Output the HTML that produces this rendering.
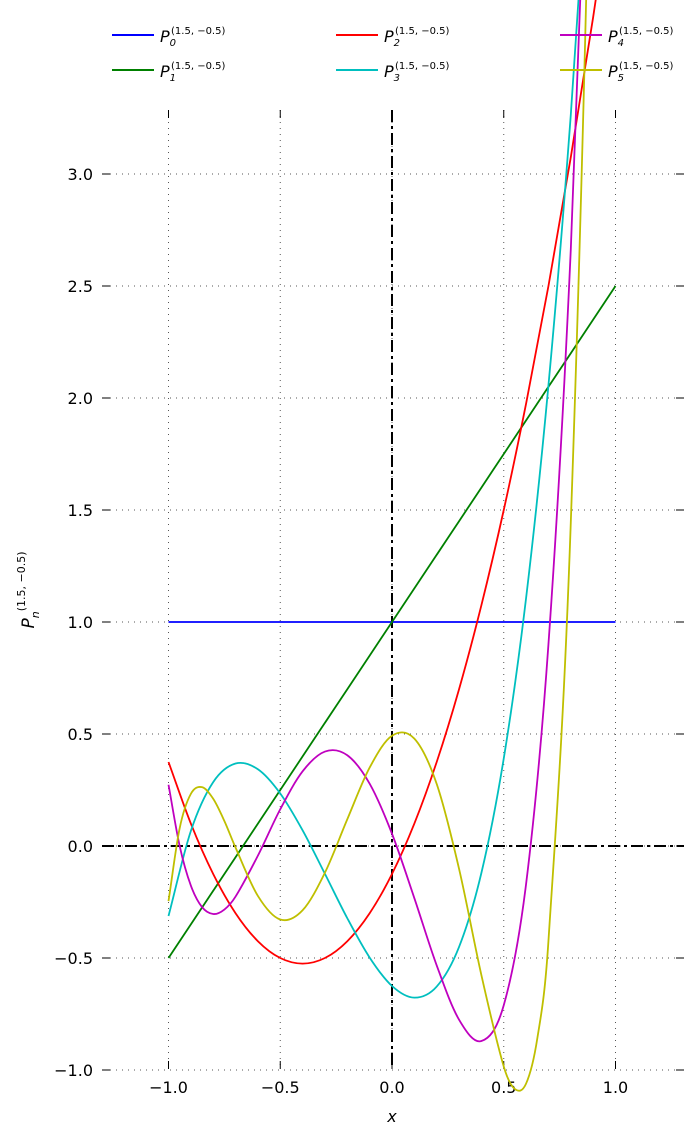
<!DOCTYPE html>
<html><head><meta charset="utf-8"><style>
html,body{margin:0;padding:0;background:#fff;}
svg{display:block;font-family:"DejaVu Sans","Liberation Sans",sans-serif;}
</style></head><body>
<svg id="chart" width="697" height="1141" viewBox="0 0 697 1141">
<g id="grid"></g>
<g id="axes"></g>
<g id="series"></g>
<g id="legend"></g>
<text x="392" y="1122" text-anchor="middle" font-size="16" font-style="italic">x</text>
<text transform="translate(34,590) rotate(-90)" text-anchor="middle" font-size="17" font-style="italic">P<tspan font-size="11" dy="5">n</tspan><tspan font-size="11" dy="-14" font-style="normal">(1.5, −0.5)</tspan></text>
</svg>
<script>
const xSamples=[-1,-0.9,-0.8,-0.7,-0.6,-0.5,-0.4,-0.3,-0.2,-0.1,0,0.1,0.2,0.3,0.4,0.5,0.6,0.7,0.8,0.9,1];
const xSamplesP4=[-1,-0.95,-0.9,-0.85,-0.8,-0.75,-0.7,-0.6,-0.5,-0.4,-0.3,-0.2,-0.1,0,0.1,0.2,0.3,0.4,0.5,0.6,0.7,0.8,0.9,1];
const xSamplesP5=[-1,-0.95,-0.9,-0.85,-0.8,-0.75,-0.7,-0.6,-0.5,-0.4,-0.3,-0.2,-0.1,0,0.1,0.2,0.3,0.4,0.5,0.55,0.6,0.65,0.7,0.8,0.9,1];
const p0Values=[1,1,1,1,1,1,1,1,1,1,1,1,1,1,1,1,1,1,1,1,1];
const p1Values=[-0.5,-0.35,-0.2,-0.05,0.1,0.25,0.4,0.55,0.7,0.85,1,1.15,1.3,1.45,1.6,1.75,1.9,2.05,2.2,2.35,2.5];
const p2Values=[0.375,0.1,-0.125,-0.3,-0.425,-0.5,-0.525,-0.5,-0.425,-0.3,-0.125,0.1,0.375,0.7,1.075,1.5,1.975,2.5,3.075,3.7,4.375];
const p3Values=[-0.3125,0.0669,0.285,0.3681,0.3425,0.2344,0.07,-0.1244,-0.3225,-0.4981,-0.625,-0.6769,-0.6275,-0.4506,-0.12,0.3906,1.1075,2.0569,3.265,4.7581,6.5625];
const p4Values=[0.2734,-0.0002,-0.1768,-0.2728,-0.3037,-0.2836,-0.2258,-0.043,0.1641,0.3333,0.4217,0.405,0.2782,0.0547,-0.2328,-0.533,-0.7753,-0.8707,-0.7109,-0.169,0.9012,2.6643,5.3042,9.0234];
const p5Values=[-0.246,0.0796,0.2327,0.2626,0.2107,0.1115,-0.0073,-0.223,-0.3282,-0.2869,-0.1188,0.1194,0.35,0.4922,0.4794,0.277,-0.1018,-0.5767,-0.9844,-1.085,-1.0606,-0.8601,-0.4233,1.4457,5.2167,11.7305];
const xTicks=[-1.0,-0.5,0.0,0.5,1.0];
const yTicks=[-1.0,-0.5,0.0,0.5,1.0,1.5,2.0,2.5,3.0];
const seriesLabels=["0","1","2","3","4","5"];
const seriesColors=["#0000ff","#008000","#ff0000","#00bfbf","#bf00bf","#bfbf00"];

const NS="http://www.w3.org/2000/svg";
const X=v=>392+v*223.5;
const Y=v=>846-v*224;
const L=102,R=684,T=110,B=1069;
function mk(tag,attrs,parent){const e=document.createElementNS(NS,tag);for(const k in attrs)e.setAttribute(k,attrs[k]);parent.appendChild(e);return e;}
const grid=document.getElementById('grid'),axes=document.getElementById('axes'),ser=document.getElementById('series'),leg=document.getElementById('legend');
const fmt=v=>(v<0?'\u2212':'')+Math.abs(v).toFixed(1);

yTicks.forEach(v=>{
 const g=mk('line',{x1:L+8,x2:R,y1:Y(v),y2:Y(v),stroke:'#555','stroke-width':1,'stroke-dasharray':'1,5'},grid);
 
 
 const t=mk('line',{x1:L,x2:L+8,y1:Y(v),y2:Y(v),stroke:'#000','stroke-width':1},axes);
 
 
 const t2=mk('line',{x1:R-8,x2:R,y1:Y(v),y2:Y(v),stroke:'#000','stroke-width':1},axes);
 
 
 const lb=mk('text',{x:L-9,y:Y(v)+6,'text-anchor':'end','font-size':16},axes);
 lb.textContent=fmt(v);
 
 
});
xTicks.forEach(v=>{
 const g=mk('line',{x1:X(v),x2:X(v),y1:T,y2:B,stroke:'#555','stroke-width':1,'stroke-dasharray':'1,5'},grid);
 
 
 const t=mk('line',{x1:X(v),x2:X(v),y1:T,y2:T+8,stroke:'#000','stroke-width':1},axes);
 
 
 const t2=mk('line',{x1:X(v),x2:X(v),y1:B-8,y2:B,stroke:'#000','stroke-width':1},axes);
 
 
 const lb=mk('text',{x:X(v),y:B+24,'text-anchor':'middle','font-size':16},axes);
 lb.textContent=fmt(v);
 
 
});
const zx=mk('line',{x1:X(0),x2:X(0),y1:T,y2:B,stroke:'#000','stroke-width':2,'stroke-dasharray':'12,4,3,4'},axes);


const zy=mk('line',{x1:L,x2:R,y1:Y(0),y2:Y(0),stroke:'#000','stroke-width':2,'stroke-dasharray':'12,4,3,4'},axes);



const allSeries=[[xSamples,p0Values],[xSamples,p1Values],[xSamples,p2Values],[xSamples,p3Values],[xSamplesP4,p4Values],[xSamplesP5,p5Values]];
function pathFor(xs,vals){
 const pts=xs.map((x,i)=>[X(x),Y(vals[i])]);
 let d='M'+pts[0][0]+','+pts[0][1];
 for(let i=0;i<pts.length-1;i++){
  const p0=pts[Math.max(0,i-1)],p1=pts[i],p2=pts[i+1],p3=pts[Math.min(pts.length-1,i+2)];
  const h=p2[0]-p1[0];
  const s1=(p2[1]-p0[1])/((p2[0]-p0[0])||1), s2=(p3[1]-p1[1])/((p3[0]-p1[0])||1);
  const c1=[p1[0]+h/3,p1[1]+s1*h/3];
  const c2=[p2[0]-h/3,p2[1]-s2*h/3];
  d+=` C${c1[0].toFixed(2)},${c1[1].toFixed(2)} ${c2[0].toFixed(2)},${c2[1].toFixed(2)} ${p2[0].toFixed(2)},${p2[1].toFixed(2)}`;
 }
 return d;
}
allSeries.forEach((s,i)=>{
 const p=mk('path',{d:pathFor(s[0],s[1]),fill:'none',stroke:seriesColors[i],'stroke-width':1.8},ser);
 
 
});
seriesLabels.forEach((lab,i)=>{
 const col=Math.floor(i/2),row=i%2;
 const x0=112+col*224,y0=35+row*35;
 const g=mk('g',{},leg);
 
 
 mk('line',{x1:x0,x2:x0+42,y1:y0,y2:y0,stroke:seriesColors[i],'stroke-width':2},g);
 const t=mk('text',{x:x0+48,y:y0+7,'font-size':16,'font-style':'italic'},g);
 t.innerHTML='P<tspan font-size="10" dy="4">'+lab+'</tspan><tspan font-size="10" dy="-12" dx="-5" font-style="normal">(1.5, \u22120.5)</tspan>';
});
</script>
</body></html>
